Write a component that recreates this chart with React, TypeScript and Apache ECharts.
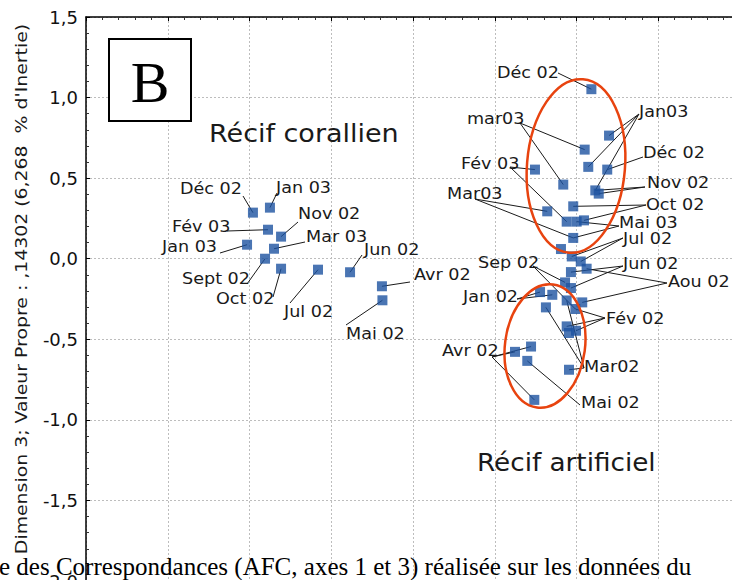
import React, { useEffect, useRef } from "react";
import * as echarts from "echarts";

// ---- data (Dimension 1 vs Dimension 3) ----
const leftNames = ["Déc 02", "Jan 03", "Fév 03", "Nov 02", "Jan 03", "Mar 03", "Sept 02", "Oct 02", "Jul 02", "Jun 02", "Avr 02", "Mai 02"];
const leftX = [-0.479, -0.375, -0.387, -0.307, -0.515, -0.35, -0.405, -0.307, -0.081, 0.115, 0.31, 0.313];
const leftY = [0.286, 0.317, 0.18, 0.137, 0.087, 0.062, 0.0, -0.062, -0.068, -0.084, -0.171, -0.258];

const rightX = [1.591, 1.699, 1.55, 1.246, 1.572, 1.688, 1.419, 1.615, 1.636, 1.48, 1.321, 1.44, 1.501, 1.546, 1.48, 1.405, 1.471, 1.526, 1.562, 1.466, 1.43, 1.466, 1.277, 1.352, 1.44, 1.535, 1.493, 1.313, 1.44, 1.497, 1.454, 1.222, 1.124, 1.199, 1.454, 1.242];
const rightY = [1.052, 0.764, 0.677, 0.553, 0.57, 0.553, 0.46, 0.424, 0.404, 0.325, 0.294, 0.23, 0.23, 0.238, 0.129, 0.06, 0.014, -0.017, -0.062, -0.083, -0.147, -0.182, -0.207, -0.224, -0.259, -0.271, -0.312, -0.302, -0.42, -0.447, -0.461, -0.545, -0.578, -0.634, -0.689, -0.876];

const rightLabels = ["Déc 02", "Jan03", "mar03", "Déc 02", "Fév 03", "Nov 02", "Mar03", "Oct 02", "Mai 03", "Jul 02", "Sep 02", "Jun 02", "Aou 02", "Jan 02", "Fév 02", "Mar02", "Avr 02", "Mai 02"];
const rightLabelPoints = [[0], [1, 4, 7], [2, 6], [5], [3, 11], [7, 8], [10, 14], [9, 13], [12, 14], [16, 17], [20, 26], [19, 21], [18, 25], [22, 23], [26, 28, 29], [24, 27, 34], [31, 32, 35], [33]];

const yTicks = [-2, -1.5, -1, -0.5, 0, 0.5, 1, 1.5];

// ---- layout of annotations (pixels) ----
const leftLabelLayout = [
  { x: 180, y: 188, ax: 243, ay: 196 },
  { x: 276, y: 187, ax: 277, ay: 193 },
  { x: 172, y: 226, ax: 227, ay: 231 },
  { x: 298, y: 213, ax: 298, ay: 222 },
  { x: 162, y: 246, ax: 220, ay: 253 },
  { x: 306, y: 236, ax: 305, ay: 242 },
  { x: 182, y: 278, ax: 247, ay: 284 },
  { x: 216, y: 298, ax: 273, ay: 297 },
  { x: 284, y: 311, ax: 290, ay: 303 },
  { x: 364, y: 249, ax: 362, ay: 255 },
  { x: 414, y: 274, ax: 410, ay: 282 },
  { x: 346, y: 333, ax: 346, ay: 325 },
];
const rightLabelLayout = [
  { x: 497, y: 72, ax: 558, ay: 73 },
  { x: 639, y: 111, ax: 639, ay: 114 },
  { x: 467, y: 118, ax: 520, ay: 123 },
  { x: 643, y: 152, ax: 643, ay: 157 },
  { x: 461, y: 163, ax: 510, ay: 167 },
  { x: 647, y: 182, ax: 645, ay: 187 },
  { x: 447, y: 193, ax: 475, ay: 199 },
  { x: 646, y: 204, ax: 646, ay: 205 },
  { x: 619, y: 222, ax: 619, ay: 226 },
  { x: 623, y: 238, ax: 623, ay: 238 },
  { x: 478, y: 262, ax: 533, ay: 266 },
  { x: 623, y: 263, ax: 623, ay: 266 },
  { x: 668, y: 281, ax: 667, ay: 283 },
  { x: 463, y: 296, ax: 517, ay: 299 },
  { x: 606, y: 318, ax: 605, ay: 318 },
  { x: 584, y: 366, ax: 584, ay: 368 },
  { x: 442, y: 350, ax: 492, ay: 357 },
  { x: 581, y: 402, ax: 580, ay: 405 },
];

const FONT = "DejaVu Sans";

export default function App() {
  const ref = useRef<HTMLDivElement>(null);
  useEffect(() => {
    if (!ref.current) return;
    const chart = echarts.init(ref.current, null, { renderer: "svg" });

    const links: number[][] = [];
    leftX.forEach((x, i) => {
      const l = leftLabelLayout[i];
      links.push([x, leftY[i], l.ax, l.ay]);
    });
    rightLabelPoints.forEach((pts, li) => {
      const l = rightLabelLayout[li];
      pts.forEach((p) => links.push([rightX[p], rightY[p], l.ax, l.ay]));
    });

    const labelStyle = (t: string) => ({ text: t, fontFamily: FONT, fontSize: 16, fill: "#1a1a1a", align: "left", verticalAlign: "middle" });
    const texts: any[] = [];
    leftNames.forEach((t, i) => {
      const l = leftLabelLayout[i];
      texts.push({ type: "text", x: l.x, y: l.y, scaleX: 1.1, z: 20, style: labelStyle(t) });
    });
    rightLabels.forEach((t, i) => {
      const l = rightLabelLayout[i];
      texts.push({ type: "text", x: l.x, y: l.y, scaleX: 1.1, z: 20, style: labelStyle(t) });
    });

    const gridDot = { show: true, lineStyle: { color: "#bdbdbd", type: [2, 2] as any, width: 1 } };

    chart.setOption({
      animation: false,
      backgroundColor: "#ffffff",
      grid: { left: 86, right: -8, top: 17, bottom: -1, containLabel: false, outerBoundsMode: "none" },
      xAxis: {
        type: "value",
        position: "top",
        min: -1.5,
        max: 2.5,
        interval: 0.5,
        axisLine: { show: true, onZero: false, lineStyle: { color: "#000", width: 1.5 } },
        axisTick: { show: true, inside: true, length: 4, lineStyle: { color: "#000" } },
        minorTick: { show: true, splitNumber: 5, length: 3, lineStyle: { color: "#333" } },
        axisLabel: { show: false },
        splitLine: gridDot,
      },
      yAxis: {
        type: "value",
        min: yTicks[0],
        max: yTicks[yTicks.length - 1],
        interval: 0.5,
        axisLine: { show: true, onZero: false, lineStyle: { color: "#000", width: 1.5 } },
        axisTick: { show: true, inside: true, length: 4, lineStyle: { color: "#000" } },
        minorTick: { show: true, splitNumber: 5, length: 3, lineStyle: { color: "#333" } },
        axisLabel: {
          fontFamily: FONT,
          fontSize: 18,
          color: "#111",
          margin: 8,
          formatter: (v: number) => v.toFixed(1).replace(".", ","),
        },
        splitLine: gridDot,
      },
      series: [
        {
          type: "custom",
          z: 3,
          silent: true,
          encode: { x: 0, y: 1 },
          data: links,
          renderItem: (params: any, api: any) => {
            const p = api.coord([api.value(0), api.value(1)]);
            return {
              type: "line",
              shape: { x1: api.value(2), y1: api.value(3), x2: p[0], y2: p[1] },
              style: { stroke: "#1a1a1a", lineWidth: 1 },
            };
          },
        },
        {
          type: "scatter",
          z: 5,
          symbol: "rect",
          symbolSize: 10,
          itemStyle: { color: "#1d52a0" },
          data: leftX.map((x, i) => [x, leftY[i]]),
        },
        {
          type: "scatter",
          z: 5,
          symbol: "rect",
          symbolSize: 10,
          itemStyle: { color: "#1d52a0" },
          data: rightX.map((x, i) => [x, rightY[i]]),
        },
      ],
      graphic: [
        ...texts,
        {
          type: "ellipse",
          x: 576,
          y: 166,
          rotation: -0.08,
          z: 10,
          shape: { cx: 0, cy: 0, rx: 49, ry: 87 },
          style: { fill: "none", stroke: "#e8430f", lineWidth: 2.5 },
        },
        {
          type: "ellipse",
          x: 545,
          y: 346,
          rotation: -0.13,
          z: 10,
          shape: { cx: 0, cy: 0, rx: 40, ry: 62 },
          style: { fill: "none", stroke: "#e8430f", lineWidth: 2.5 },
        },
        {
          type: "rect",
          z: 10,
          shape: { x: 109, y: 39, width: 82, height: 82 },
          style: { fill: "#fff", stroke: "#000", lineWidth: 2 },
        },
        {
          type: "text",
          z: 11,
          x: 150,
          y: 82,
          style: { text: "B", fontFamily: "Liberation Serif", fontSize: 58, fill: "#000", align: "center", verticalAlign: "middle" },
        },
        {
          type: "text",
          z: 11,
          x: 209,
          y: 133,
          scaleX: 1.08,
          style: { text: "Récif corallien", fontFamily: FONT, fontSize: 25, fill: "#1a1a1a", align: "left", verticalAlign: "middle" },
        },
        {
          type: "text",
          z: 11,
          x: 477,
          y: 462,
          scaleX: 1.05,
          style: { text: "Récif artificiel", fontFamily: FONT, fontSize: 25, fill: "#1a1a1a", align: "left", verticalAlign: "middle" },
        },
        {
          type: "text",
          z: 11,
          x: 22,
          y: 289,
          rotation: Math.PI / 2,
          scaleX: 1.18,
          style: { text: "Dimension 3; Valeur Propre : ,14302 (6,268  % d'Inertie)", fontFamily: FONT, fontSize: 16, fill: "#1a1a1a", align: "center", verticalAlign: "middle" },
        },
        {
          type: "text",
          z: 12,
          x: -1,
          y: 566,
          style: { text: "e des Correspondances (AFC, axes 1 et 3) réalisée sur les données du", fontFamily: "Liberation Serif", fontSize: 25, fill: "#000", align: "left", verticalAlign: "middle" },
        },
      ],
    });
    return () => chart.dispose();
  }, []);
  return <div ref={ref} style={{ position: "fixed", left: 0, top: 0, width: 732, height: 580, background: "#fff" }} />;
}
